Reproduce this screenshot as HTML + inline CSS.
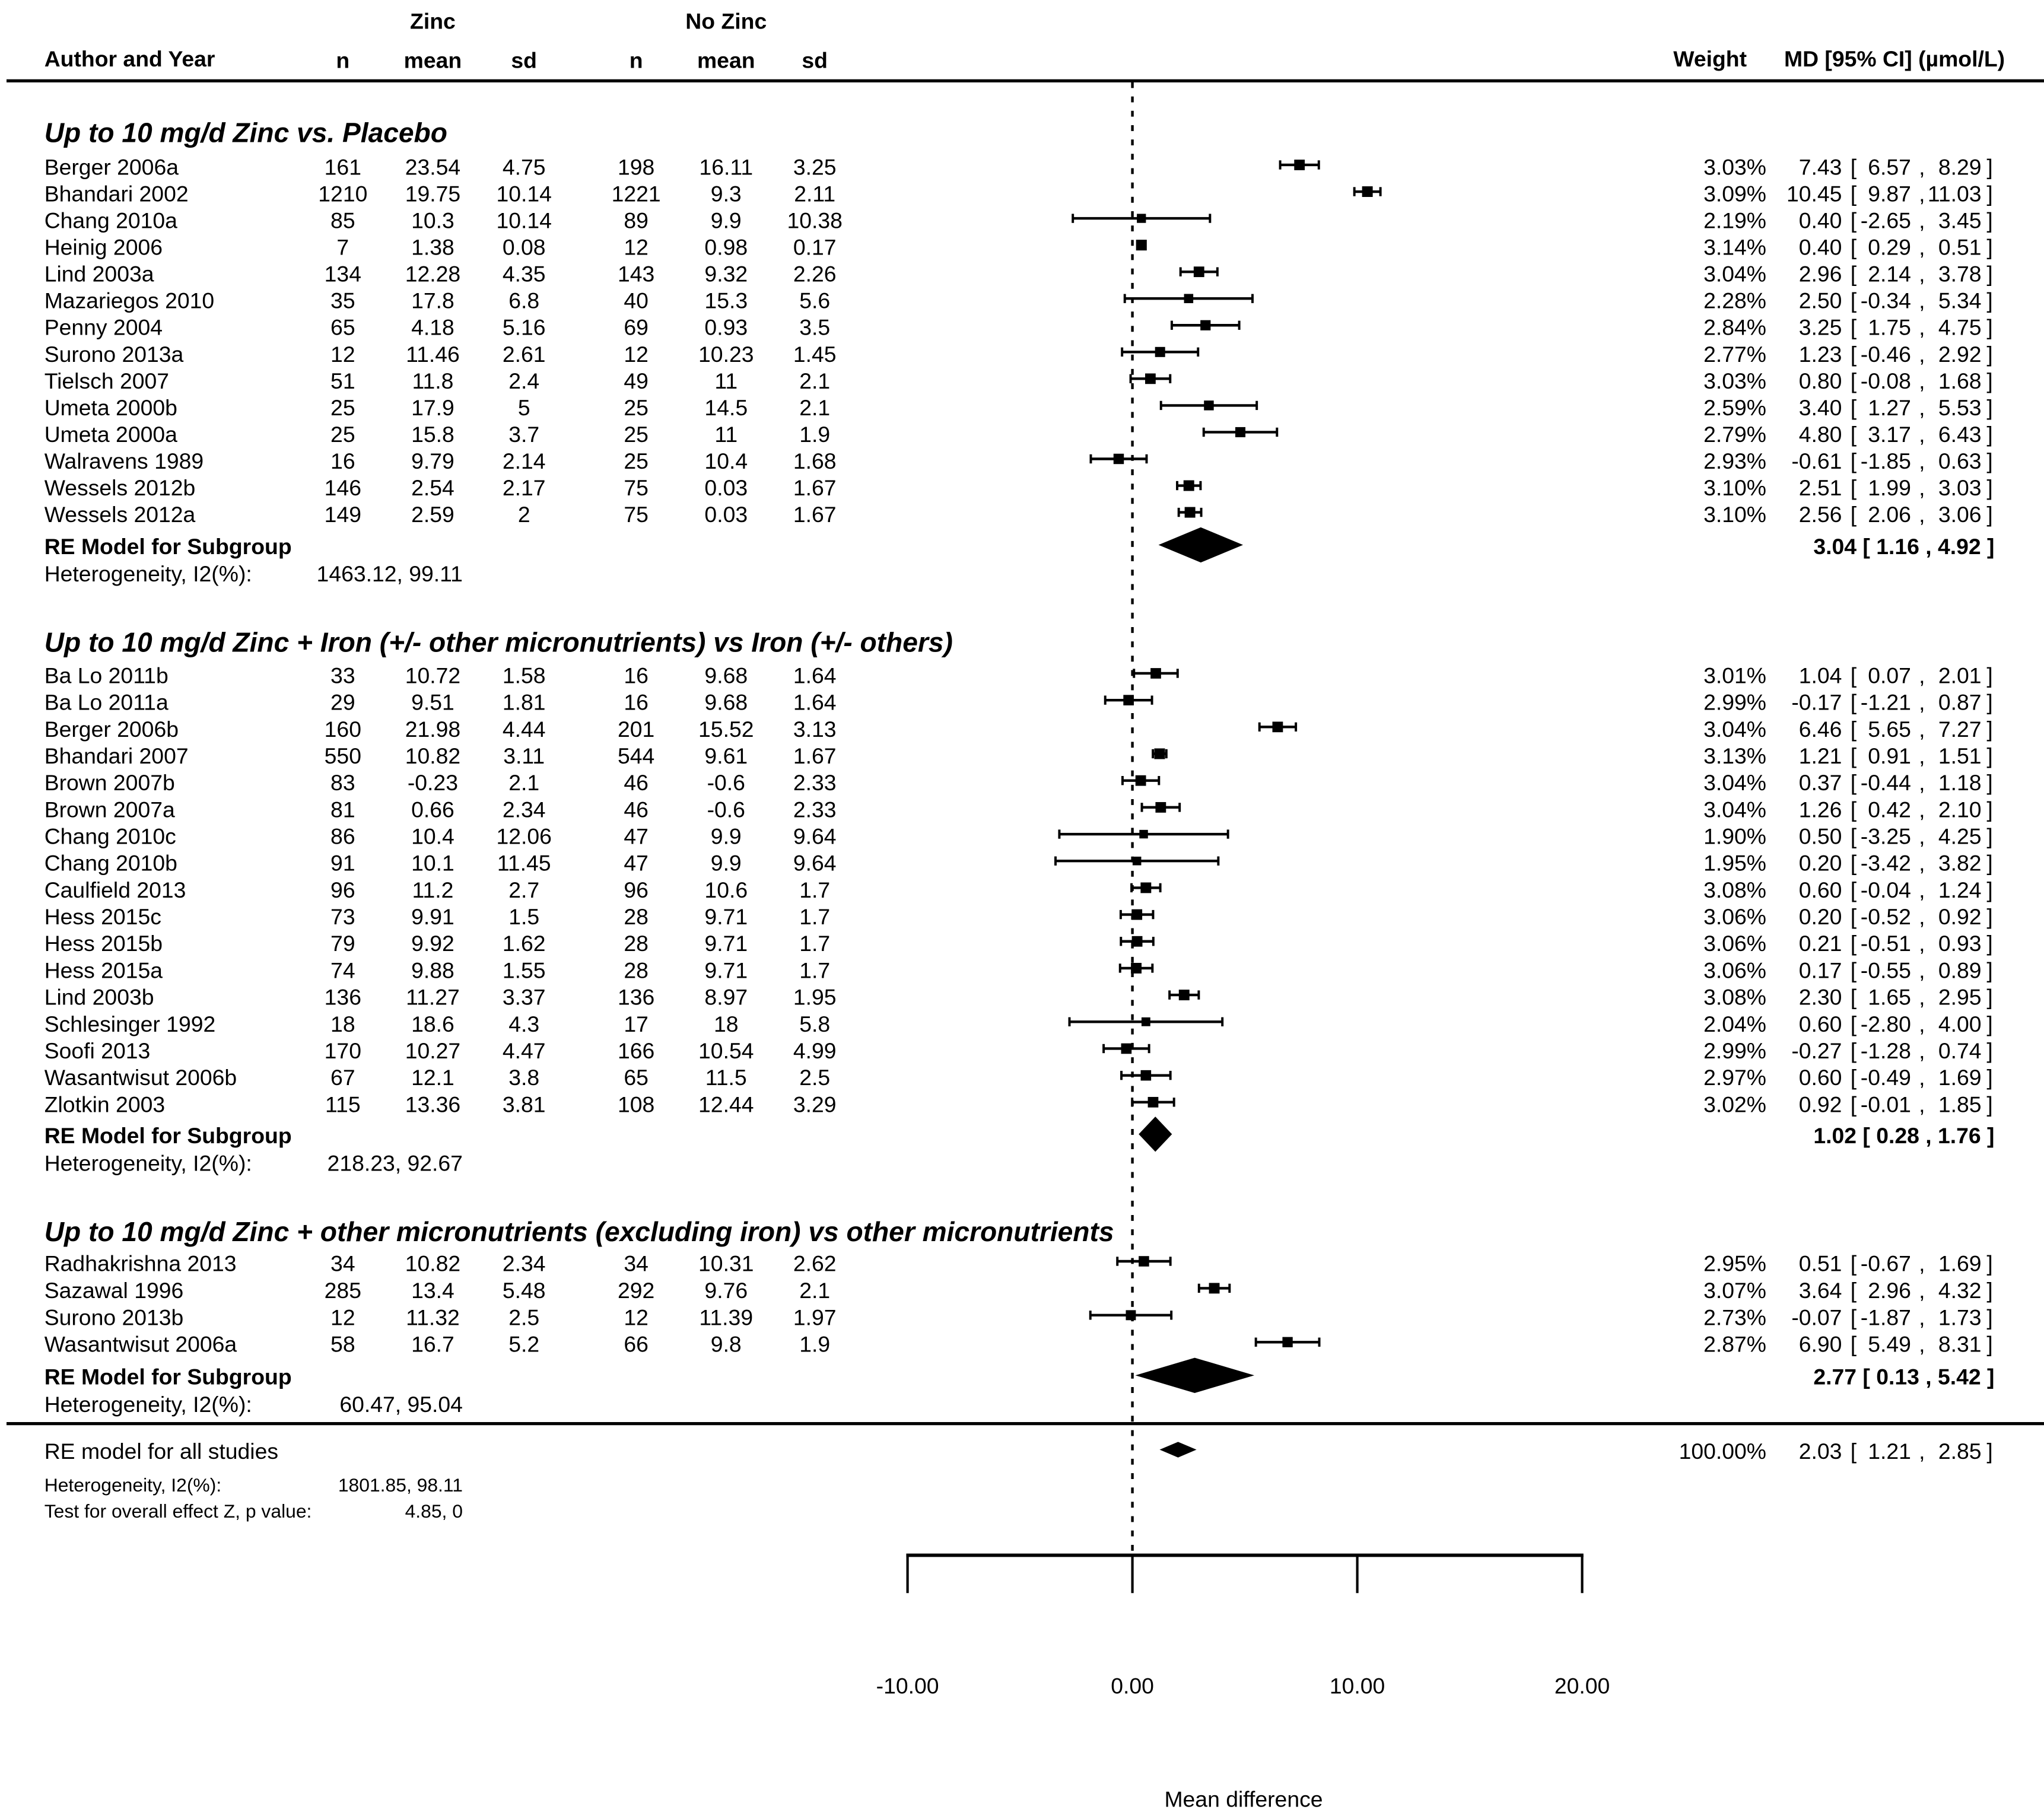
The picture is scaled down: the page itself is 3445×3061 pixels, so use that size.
<!DOCTYPE html>
<html><head><meta charset="utf-8">
<style>
html,body{margin:0;padding:0;background:#fff;}
svg{display:block;}
text{font-family:"Liberation Sans",Arial,sans-serif;fill:#000;}
</style></head>
<body>
<svg id="plot" width="3445" height="3061" viewBox="0 0 1568 1393" preserveAspectRatio="none" xmlns="http://www.w3.org/2000/svg"></svg>
<script>
// ---- data ----
const groupTitles = ["Up to 10 mg/d Zinc vs. Placebo","Up to 10 mg/d Zinc + Iron (+/- other micronutrients) vs Iron (+/- others)","Up to 10 mg/d Zinc + other micronutrients (excluding iron) vs other micronutrients"];
const studyGroup = [0,0,0,0,0,0,0,0,0,0,0,0,0,0, 1,1,1,1,1,1,1,1,1,1,1,1,1,1,1,1,1, 2,2,2,2];
const studyNames = ["Berger 2006a","Bhandari 2002","Chang 2010a","Heinig 2006","Lind 2003a","Mazariegos 2010","Penny 2004","Surono 2013a","Tielsch 2007","Umeta 2000b","Umeta 2000a","Walravens 1989","Wessels 2012b","Wessels 2012a",
"Ba Lo 2011b","Ba Lo 2011a","Berger 2006b","Bhandari 2007","Brown 2007b","Brown 2007a","Chang 2010c","Chang 2010b","Caulfield 2013","Hess 2015c","Hess 2015b","Hess 2015a","Lind 2003b","Schlesinger 1992","Soofi 2013","Wasantwisut 2006b","Zlotkin 2003",
"Radhakrishna 2013","Sazawal 1996","Surono 2013b","Wasantwisut 2006a"];
const zincN = [161,1210,85,7,134,35,65,12,51,25,25,16,146,149, 33,29,160,550,83,81,86,91,96,73,79,74,136,18,170,67,115, 34,285,12,58];
const zincMean = [23.54,19.75,10.3,1.38,12.28,17.8,4.18,11.46,11.8,17.9,15.8,9.79,2.54,2.59, 10.72,9.51,21.98,10.82,-0.23,0.66,10.4,10.1,11.2,9.91,9.92,9.88,11.27,18.6,10.27,12.1,13.36, 10.82,13.4,11.32,16.7];
const zincSd = [4.75,10.14,10.14,0.08,4.35,6.8,5.16,2.61,2.4,5,3.7,2.14,2.17,2, 1.58,1.81,4.44,3.11,2.1,2.34,12.06,11.45,2.7,1.5,1.62,1.55,3.37,4.3,4.47,3.8,3.81, 2.34,5.48,2.5,5.2];
const ctrlN = [198,1221,89,12,143,40,69,12,49,25,25,25,75,75, 16,16,201,544,46,46,47,47,96,28,28,28,136,17,166,65,108, 34,292,12,66];
const ctrlMean = [16.11,9.3,9.9,0.98,9.32,15.3,0.93,10.23,11,14.5,11,10.4,0.03,0.03, 9.68,9.68,15.52,9.61,-0.6,-0.6,9.9,9.9,10.6,9.71,9.71,9.71,8.97,18,10.54,11.5,12.44, 10.31,9.76,11.39,9.8];
const ctrlSd = [3.25,2.11,10.38,0.17,2.26,5.6,3.5,1.45,2.1,2.1,1.9,1.68,1.67,1.67, 1.64,1.64,3.13,1.67,2.33,2.33,9.64,9.64,1.7,1.7,1.7,1.7,1.95,5.8,4.99,2.5,3.29, 2.62,2.1,1.97,1.9];
const weights = [3.03,3.09,2.19,3.14,3.04,2.28,2.84,2.77,3.03,2.59,2.79,2.93,3.10,3.10, 3.01,2.99,3.04,3.13,3.04,3.04,1.90,1.95,3.08,3.06,3.06,3.06,3.08,2.04,2.99,2.97,3.02, 2.95,3.07,2.73,2.87];
const md = [7.43,10.45,0.40,0.40,2.96,2.50,3.25,1.23,0.80,3.40,4.80,-0.61,2.51,2.56, 1.04,-0.17,6.46,1.21,0.37,1.26,0.50,0.20,0.60,0.20,0.21,0.17,2.30,0.60,-0.27,0.60,0.92, 0.51,3.64,-0.07,6.90];
const ciLow = [6.57,9.87,-2.65,0.29,2.14,-0.34,1.75,-0.46,-0.08,1.27,3.17,-1.85,1.99,2.06, 0.07,-1.21,5.65,0.91,-0.44,0.42,-3.25,-3.42,-0.04,-0.52,-0.51,-0.55,1.65,-2.80,-1.28,-0.49,-0.01, -0.67,2.96,-1.87,5.49];
const ciHigh = [8.29,11.03,3.45,0.51,3.78,5.34,4.75,2.92,1.68,5.53,6.43,0.63,3.03,3.06, 2.01,0.87,7.27,1.51,1.18,2.10,4.25,3.82,1.24,0.92,0.93,0.89,2.95,4.00,0.74,1.69,1.85, 1.69,4.32,1.73,8.31];
const subMd = [3.04,1.02,2.77];
const subLow = [1.16,0.28,0.13];
const subHigh = [4.92,1.76,5.42];
const subHet = ["1463.12, 99.11","218.23, 92.67","60.47, 95.04"];
const overallMd = 2.03, overallLow = 1.21, overallHigh = 2.85;
const overallHet = "1801.85, 98.11";
const overallTest = "4.85, 0";
const axisTicks = [-10,0,10,20];
const axisTickLabels = ["-10.00","0.00","10.00","20.00"];

// ---- layout ----
const svg = document.getElementById('plot');
const NS = "http://www.w3.org/2000/svg";
const X0 = 868.7, PX = 17.25;
function xs(v){ return X0 + v*PX; }
const groupStart = [128,518,969], groupStep = [20.5,20.56,20.67];
const titleY = [103,494,946], reY = [419,871,1056], hetY = [440,892,1077];

function el(tag, attrs, parent){
  const e = document.createElementNS(NS, tag);
  for (const k in attrs) e.setAttribute(k, attrs[k]);
  (parent||svg).appendChild(e);
  return e;
}
function txt(s, x, cy, opts){
  opts = opts||{};
  const t = el('text', {x:x, y:cy+6, 'font-size':opts.size||17, 'text-anchor':opts.anchor||'start'});
  if (opts.bold) t.setAttribute('font-weight','bold');
  if (opts.italic) t.setAttribute('font-style','italic');
  t.textContent = s;
  
  
  return t;
}
function f2(v){ return v.toFixed(2); }

// header
txt("Zinc", 332, 16, {anchor:'middle', bold:true, name:'zinc-group-header'});
txt("No Zinc", 557, 16, {anchor:'middle', bold:true, name:'no-zinc-group-header'});
txt("Author and Year", 34, 45, {bold:true, name:'author-column-header'});
txt("n", 263, 46, {anchor:'middle', bold:true, name:'zinc-n-header'});
txt("mean", 332, 46, {anchor:'middle', bold:true, name:'zinc-mean-header'});
txt("sd", 402, 46, {anchor:'middle', bold:true, name:'zinc-sd-header'});
txt("n", 488, 46, {anchor:'middle', bold:true, name:'control-n-header'});
txt("mean", 557, 46, {anchor:'middle', bold:true, name:'control-mean-header'});
txt("sd", 625, 46, {anchor:'middle', bold:true, name:'control-sd-header'});
txt("Weight", 1340, 45, {anchor:'end', bold:true, name:'weight-header'});
txt("MD  [95% CI] (\u00B5mol/L)", 1538, 45, {anchor:'end', bold:true, name:'md-ci-header'});
const topLine = el('line', {x1:5, x2:1568, y1:62, y2:62, stroke:'#000', 'stroke-width':2.4});



// reference line at 0
const ref = el('line', {x1:xs(0), x2:xs(0), y1:63, y2:1193, stroke:'#000', 'stroke-width':2, 'stroke-dasharray':'4.5 6.5'});



function mdCols(i_md, lo, hi, cy, bold){
  const o = {bold:bold};
  txt(f2(i_md), 1413, cy, Object.assign({anchor:'end', name:'md-value'}, o));
  txt("[", 1419.5, cy, Object.assign({name:'ci-bracket'}, o));
  txt(f2(lo), 1466, cy, Object.assign({anchor:'end', name:'ci-lower'}, o));
  txt(",", 1472, cy, Object.assign({name:'ci-comma'}, o));
  txt(f2(hi), 1520, cy, Object.assign({anchor:'end', name:'ci-upper'}, o));
  txt("]", 1524, cy, Object.assign({name:'ci-bracket'}, o));
}
function diamond(c, lo, hi, cy, hh, name){
  const p = el('polygon', {points:`${xs(lo)},${cy} ${xs(c)},${cy-hh} ${xs(hi)},${cy} ${xs(c)},${cy+hh}`, fill:'#000'});
  
  
}

// groups
for (let g=0; g<3; g++){
  txt(groupTitles[g], 34, titleY[g], {bold:true, italic:true, size:21, name:'subgroup-title'});
  let k = 0;
  for (let i=0; i<studyNames.length; i++){
    if (studyGroup[i] !== g) continue;
    const cy = groupStart[g] + k*groupStep[g]; k++;
    txt(studyNames[i], 34, cy, {name:'study-name'});
    txt(String(zincN[i]), 263, cy, {anchor:'middle', name:'zinc-n'});
    txt(String(zincMean[i]), 332, cy, {anchor:'middle', name:'zinc-mean'});
    txt(String(zincSd[i]), 402, cy, {anchor:'middle', name:'zinc-sd'});
    txt(String(ctrlN[i]), 488, cy, {anchor:'middle', name:'control-n'});
    txt(String(ctrlMean[i]), 557, cy, {anchor:'middle', name:'control-mean'});
    txt(String(ctrlSd[i]), 625, cy, {anchor:'middle', name:'control-sd'});
    txt(f2(weights[i])+"%", 1355, cy, {anchor:'end', name:'study-weight'});
    mdCols(md[i], ciLow[i], ciHigh[i], cy, false);
    const my = cy - 1.5;
    const ln = el('line', {x1:xs(ciLow[i]), x2:xs(ciHigh[i]), y1:my, y2:my, stroke:'#000', 'stroke-width':2});
    
    
    for (const v of [ciLow[i], ciHigh[i]]){
      const tk = el('line', {x1:xs(v), x2:xs(v), y1:my-3.5, y2:my+3.5, stroke:'#000', 'stroke-width':1.8});
      
      
    }
    const s = 4 + 1.35*weights[i];
    const sq = el('rect', {x:xs(md[i])-s/2, y:my-s/2, width:s, height:s, fill:'#000'});
    
    
  }
  txt("RE Model for Subgroup", 34, reY[g], {bold:true, name:'subgroup-re-label'});
  txt("Heterogeneity, I2(%):", 34, hetY[g], {name:'subgroup-heterogeneity-label'});
  txt(subHet[g], 355, hetY[g], {anchor:'end', name:'subgroup-heterogeneity-value'});
  txt(f2(subMd[g])+" [ "+f2(subLow[g])+" , "+f2(subHigh[g])+" ]", 1530, reY[g], {anchor:'end', bold:true, name:'subgroup-md-ci'});
  diamond(subMd[g], subLow[g], subHigh[g], reY[g]-1, 13.5, 'subgroup-diamond');
}

const midLine = el('line', {x1:5, x2:1568, y1:1092, y2:1092, stroke:'#000', 'stroke-width':2.4});



txt("RE model for all studies", 34, 1113, {name:'overall-re-label'});
txt("100.00%", 1355, 1113, {anchor:'end', name:'overall-weight'});
mdCols(overallMd, overallLow, overallHigh, 1113, false);
diamond(overallMd, overallLow, overallHigh, 1112, 6, 'overall-diamond');
txt("Heterogeneity, I2(%):", 34, 1138, {size:14.5, name:'overall-heterogeneity-label'});
txt(overallHet, 355, 1138, {anchor:'end', size:14.5, name:'overall-heterogeneity-value'});
txt("Test for overall effect Z, p value:", 34, 1158, {size:14.5, name:'overall-test-label'});
txt(overallTest, 355, 1158, {anchor:'end', size:14.5, name:'overall-test-value'});

// axis
const ax = el('line', {x1:xs(axisTicks[0])-1, x2:xs(axisTicks[axisTicks.length-1])+1, y1:1193, y2:1193, stroke:'#000', 'stroke-width':2.6});


for (let i=0; i<axisTicks.length; i++){
  const t = el('line', {x1:xs(axisTicks[i]), x2:xs(axisTicks[i]), y1:1193, y2:1222, stroke:'#000', 'stroke-width':1.9});
  
  
  txt(axisTickLabels[i], xs(axisTicks[i]), 1293, {anchor:'middle', name:'x-axis-tick-label'});
}
txt("Mean difference", 954, 1380, {anchor:'middle', name:'x-axis-title'});
</script>
</body></html>
